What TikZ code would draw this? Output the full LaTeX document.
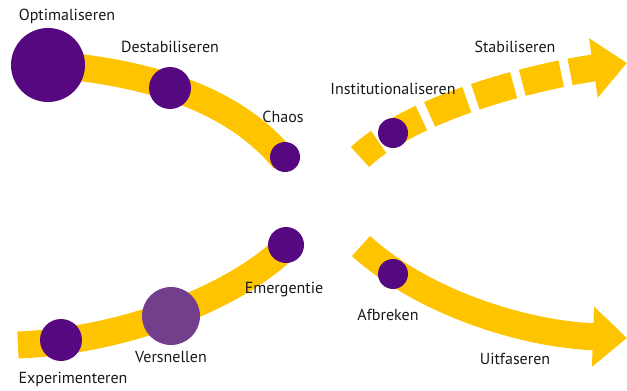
\documentclass[tikz,border=0pt]{standalone}
\usepackage{fontspec}
\setmainfont{PT Sans}
\usetikzlibrary{positioning}
\usetikzlibrary{arrows.meta}
\definecolor{bandyellow}{RGB}{254,196,0}
\definecolor{phasepurple}{RGB}{86,8,128}
\definecolor{phaselight}{RGB}{115,62,140}
\tikzset{
  band_solid/.style={line width = 27pt, color = bandyellow},
  band_arrow/.style={-{Triangle[length = 34pt, width = 58pt]}, line width = 27pt, color = bandyellow},
  band_dashed/.style={band_arrow, dash pattern = on 40pt off 9pt, dash phase = 16pt},
  big_phase_point/.style={circle, draw = none, fill = phasepurple, minimum size = 74pt, inner sep = 0},
  mid_phase_point/.style={circle, draw = none, fill = phasepurple, minimum size = 42pt, inner sep = 0},
  small_phase_point/.style={circle, draw = none, fill = phasepurple, minimum size = 30pt, inner sep = 0},
  light_phase_point/.style={circle, draw = none, fill = phaselight, minimum size = 58pt, inner sep = 0},
  phase_label/.style={draw = none, scale = 1, text = black!90, font = \fontsize{16}{18}\selectfont}}

\begin{document}
\begin{tikzpicture}[x = 1pt, y = -1pt]

\useasboundingbox (0,0) rectangle (627,391);

%%% band ends
\coordinate (a0) at (30,63);
\coordinate (a1) at (284,160);
\coordinate (b0) at (18,345);
\coordinate (b1) at (284,249);
\coordinate (c0) at (360,157);
\coordinate (c1) at (627,63);
\coordinate (d0) at (361,246);
\coordinate (d1) at (627,338);

%%% bands
\draw[band_solid] (a0) .. controls (150,70) and (235,100) .. (a1);
\draw[band_solid] (b0) .. controls (120,341) and (230,300) .. (b1);
\draw[band_dashed] (c0) .. controls (410,110) and (525,78) .. (c1);
\draw[band_arrow] (d0) .. controls (420,300) and (520,334) .. (d1);

%%% upper left phases
\node[big_phase_point] at (48,65) (opt){};
\node[mid_phase_point] at (170,88) (destab){};
\node[small_phase_point] at (285,157) (chaos){};

%%% lower left phases
\node[mid_phase_point] at (61,340) (exp){};
\node[light_phase_point] at (171,316) (versn){};
\node[small_phase_point, minimum size = 36pt] at (286,245) (emerg){};

%%% right phases
\node[small_phase_point] at (393,133) (inst){};
\node[small_phase_point] at (393,274) (afbr){};

%%% labels
\node[phase_label] at (67,16) {Optimaliseren};
\node[phase_label] at (170,47) {Destabiliseren};
\node[phase_label] at (283,117) {Chaos};
\node[phase_label] at (393,89) {Institutionaliseren};
\node[phase_label] at (515,47) {Stabiliseren};
\node[phase_label] at (73,379) {Experimenteren};
\node[phase_label] at (171,357) {Versnellen};
\node[phase_label] at (284,290) {Emergentie};
\node[phase_label] at (388,315) {Afbreken};
\node[phase_label] at (515,359) {Uitfaseren};

\end{tikzpicture}
\end{document}
